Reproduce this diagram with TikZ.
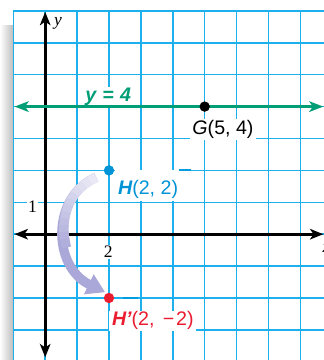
\documentclass[tikz,border=0pt]{standalone}
\usepackage{fontspec}
\setmainfont{Liberation Serif}
\newfontfamily\lblfont{Liberation Sans}
\usetikzlibrary{arrows.meta}
\definecolor{gridc}{RGB}{30,176,236}
\definecolor{gridd}{RGB}{0,156,224}
\definecolor{grn}{RGB}{0,158,118}
\definecolor{blu}{RGB}{0,148,214}
\definecolor{rd}{RGB}{234,28,48}
\definecolor{lav}{RGB}{170,168,216}
\tikzset{
  gridline/.style={draw=gridc, line width=1.05pt},
  darkdash/.style={draw=gridd, line width=1.5pt},
  axisline/.style={draw=black, line width=1.9pt,
    {Stealth[length=9.5pt,width=7.5pt,inset=2.5pt]}-{Stealth[length=9.5pt,width=7.5pt,inset=2.5pt]}},
  greenline/.style={draw=grn, line width=2.1pt,
    {Stealth[length=10pt,width=7.5pt,inset=2.5pt]}-{Stealth[length=10pt,width=7.5pt,inset=2.5pt]}},
  lbl/.style={font=\lblfont\fontsize{14}{16}\selectfont, fill=white, inner xsep=2pt, inner ysep=1pt},
  axlbl/.style={font=\fontsize{12.5}{14}\selectfont, fill=white, inner sep=0.8pt},
  dot/.style={circle, inner sep=0pt, minimum size=7.4pt},
}
\begin{document}
\begin{tikzpicture}[x=0.8cm,y=0.8cm]
\useasboundingbox (-1.417,-3.944) rectangle (8.74,7.342);
\fill[white] (-1.417,-3.944) rectangle (8.74,7.342);
% shadow at the left edge
\shade[left color=white, right color=black!26] (-1.417,-3.944) rectangle (-1.0,6.55);
% grid
\foreach \x in {-1,...,8} \draw[gridline] (\x,-3.944) -- (\x,7);
\foreach \y in {-3,...,7} \draw[gridline] (-1,\y) -- (8.74,\y);
% labels with white backgrounds
\node[lbl, anchor=base west, text=grn] (eqlbl) at (1.16,4.15)
  {\bfseries\itshape y\hspace{0.32em}=\hspace{0.32em}4};
\node[lbl, anchor=base west] (Glbl) at (4.52,3.11) {{\itshape G}(5, 4)};
\node[lbl, anchor=base west, text=blu, text height=18pt, text depth=4pt, inner ysep=0pt] (Hlbl) at (2.19,1.23)
  {{\bfseries\itshape H}(2, 2)};
\node[lbl, anchor=base west, text=rd, inner ysep=0.5pt] (Hplbl) at (2.0,-2.87)
  {{\bfseries\itshape H’}(2,\hspace{0.42em}−\hspace{0.1em}2)};
\node[axlbl] (ylbl) at (0.40,6.62) {\itshape y};
\node[axlbl] (onelbl) at (-0.40,0.86) {1};
\node[axlbl] (twolbl) at (1.98,-0.55) {2};
\node[axlbl, fill=none] (xlbl) at (8.82,-0.45) {\itshape x};
% small darker dashes
\draw[darkdash] (4.19,2) -- (4.57,2);
\draw[darkdash] (2.44,-2) -- (2.91,-2);
% axes
\coordinate (ybot) at (0,-3.86);
\coordinate (ytop) at (0,6.97);
\coordinate (xleft) at (-0.96,0);
\coordinate (xright) at (8.72,0);
\draw[axisline] (ybot) -- (ytop);
\draw[axisline] (xleft) -- (xright);
% line y = 4
\coordinate (gleft) at (-0.96,4);
\coordinate (gright) at (8.72,4);
\draw[greenline] (gleft) -- (gright);
% curved rotation arrow
\coordinate (astart) at (1.6,1.78);
\coordinate (aend) at (1.88,-1.82);
\draw[lav, line width=6.7pt, -{Triangle[length=13pt,width=15pt]}]
  (astart) .. controls (0.2,1.2) and (0.2,-1.0) .. (aend);
\foreach \i in {0,...,11}{
  \pgfmathsetmacro{\ta}{\i/20}
  \pgfmathsetmacro{\tb}{(\i+1)/20+0.012}
  \pgfmathsetmacro{\ua}{1-\ta}
  \pgfmathsetmacro{\ub}{1-\tb}
  \pgfmathsetmacro{\xa}{\ua*\ua*\ua*1.6+3*\ua*\ua*\ta*0.2+3*\ua*\ta*\ta*0.2+\ta*\ta*\ta*1.88}
  \pgfmathsetmacro{\ya}{\ua*\ua*\ua*1.78+3*\ua*\ua*\ta*1.2+3*\ua*\ta*\ta*(-1.0)+\ta*\ta*\ta*(-1.82)}
  \pgfmathsetmacro{\xb}{\ub*\ub*\ub*1.6+3*\ub*\ub*\tb*0.2+3*\ub*\tb*\tb*0.2+\tb*\tb*\tb*1.88}
  \pgfmathsetmacro{\yb}{\ub*\ub*\ub*1.78+3*\ub*\ub*\tb*1.2+3*\ub*\tb*\tb*(-1.0)+\tb*\tb*\tb*(-1.82)}
  \pgfmathtruncatemacro{\pc}{25+75*\i/12}
  \draw[lav!\pc!white, line width=6.7pt, line cap=butt] (\xa,\ya) -- (\xb,\yb);
}
% points
\node[dot, fill=black] (G) at (5,4) {};
\node[dot, fill=blu] (H) at (2,2) {};
\node[dot, fill=rd] (Hp) at (2,-2) {};
\end{tikzpicture}
\end{document}
